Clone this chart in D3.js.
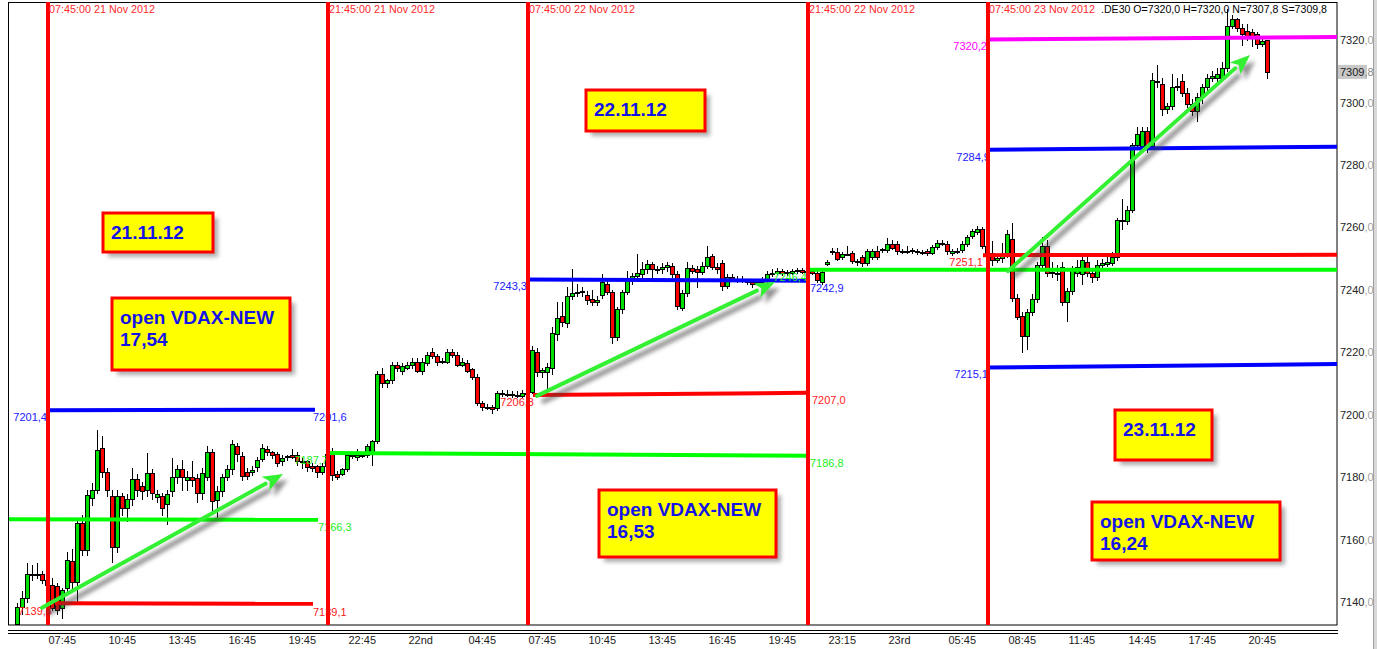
<!DOCTYPE html>
<html>
<head>
<meta charset="utf-8">
<script src="https://cdn.jsdelivr.net/npm/d3@7"></script>
<style>
  body { margin: 0; background: #fff; }
  svg { display: block; font-family: "Liberation Sans", Arial, sans-serif; }
</style>
</head>
<body>
<div id="chart"></div>
<script>
// 15 min candles [open, high, low, close], .DE30 21-23 Nov 2012
const day21 = [
  [7133,7139.5,7132,7138.4],[7138.4,7143.6,7136,7141.3],[7141.3,7152.5,7140,7148.9],[7148.9,7151.8,7147,7149],
  [7149,7152.5,7147.5,7148.9],[7148.9,7150,7146,7147],[7147,7148,7144,7145.4],[7145.4,7147.7,7137.5,7138],
  [7145,7146,7136,7137.4],[7138,7144.5,7134.9,7143.8],[7144.5,7156,7143,7153.4],[7153,7157,7144,7146.5],
  [7146.4,7167,7140,7165.3],[7165.3,7168,7155,7156.6],[7156.6,7176,7155,7174.3],[7173.3,7178,7171,7175.9],
  [7175.9,7195,7175,7188.7],[7189.3,7193,7180,7181.6],[7181.6,7183,7174,7175.9],[7174,7176,7152.8,7157.6],
  [7157.6,7176,7156,7174],[7174,7175,7168,7170],[7170,7174.5,7166,7173],[7173,7183,7171,7179.3],
  [7179.3,7181,7174,7176],[7177,7178.5,7173,7175.5],[7175.9,7187.7,7174,7181.3],[7181.3,7182.5,7173,7175],
  [7173.6,7176,7172,7174.7],[7174,7175,7168,7170],[7171.5,7176,7165,7174.7],[7175.6,7186,7174,7180],
  [7180,7184,7178,7182.6],[7182.6,7185.5,7176,7180],[7179,7182,7176,7180],[7180,7185,7177,7179],
  [7179.7,7181,7172,7174.9],[7174.9,7183,7173,7181.3],[7180,7190,7179,7188],[7188,7189,7169.5,7172.4],
  [7172.7,7177,7167,7175.5],[7175.5,7181,7174,7180],[7180,7184,7179,7182.6],[7182.6,7192,7181,7190.6],
  [7190,7191,7185,7187.4],[7186.7,7188,7179,7180.3],[7181.6,7183,7179.5,7180.3],[7181.6,7183.5,7180.5,7182.4],
  [7183.2,7186.5,7182,7185.5],[7185.8,7190.5,7185,7189.3],[7189,7190,7187,7188],[7188,7188.5,7186,7187],
  [7187.4,7188,7183.5,7184.5],[7185,7187,7184,7186],[7186.3,7187,7185.5,7186.6],[7187.2,7189,7186,7186.5],
  [7187,7188,7184,7185],[7184.7,7186,7183,7185.2],[7185,7185.5,7182,7183.2],[7183.5,7184.5,7182,7183],
  [7183.5,7184,7180,7181.7],[7181.7,7184.5,7181,7183.5],[7183.5,7189,7182,7187.5]
];
const night21 = [
  [7187.7,7189.3,7179,7180.7],[7181,7182,7179.5,7180],[7181,7183,7180.5,7182.5],[7182.6,7188,7182,7187],
  [7187,7188,7186,7187.2],[7186.3,7189,7185.5,7187],[7187,7188,7186.5,7187.2],[7187,7190.5,7186.5,7190],
  [7188,7192,7184,7191.5],[7191.5,7214,7191,7213],[7213,7215,7209,7210],[7210,7211.5,7209,7211],
  [7211,7217,7210,7216],[7216,7217,7214,7215],[7214,7216.5,7213,7215.5],[7215,7217,7214.5,7216],
  [7216,7218,7215,7217],[7217,7218,7213.5,7214],[7214,7218,7213,7217],[7216.5,7220,7216,7219],
  [7220,7221.5,7218,7218.7],[7218.7,7219.5,7216,7217],[7217,7218,7216.5,7217.2],[7217,7221,7216.5,7220],
  [7220,7221,7218.5,7219.2],[7219,7220,7215.5,7216],[7216,7218,7215.5,7217],[7216.5,7217.5,7213.5,7214],
  [7214.5,7215,7211.5,7212],[7212,7213,7203,7203.7],[7203.7,7204.5,7201.5,7202.4],[7202.4,7203.5,7201.8,7202.6],
  [7202.4,7203,7200.5,7201.9],[7202,7207.5,7201.5,7207],[7207,7208,7206,7206.5],[7206.5,7208,7206,7206.7],
  [7206.5,7207.5,7205.8,7206.6],[7206.2,7207.5,7205.5,7206],[7206,7208,7205.5,7207]
];
const day22 = [
  [7207,7208,7205.5,7206.8],[7207.3,7222,7207,7220.7],[7220,7221.5,7212.5,7213.6],[7213.6,7215,7212,7214.3],
  [7213.6,7216.5,7207,7215.3],[7215,7228,7213,7226],[7225.8,7236,7224,7231],[7231.5,7236,7228.5,7229.7],
  [7229.4,7241,7228,7238],[7238,7246.6,7237,7239],[7239,7242,7238,7239.3],[7239.3,7241,7238,7239.5],
  [7238.3,7239.5,7235.5,7236.7],[7237,7240,7235,7236],[7236,7238,7235,7236.6],[7238.3,7245,7237.5,7242.5],
  [7242,7243,7238.5,7239.3],[7239.3,7240,7223,7225],[7225,7234.5,7224,7233.8],[7233.8,7240,7232.5,7239.3],
  [7239.3,7246,7238.5,7243],[7243,7245.5,7242,7244.4],[7244.4,7251.5,7243.5,7245.5],[7245,7249,7244,7246.6],
  [7246.6,7249.5,7245.5,7248.2],[7248.2,7249,7244,7246.6],[7246.6,7247.5,7245.5,7246.8],[7246.6,7248.5,7245.5,7247.3],
  [7247.3,7249,7246,7248],[7247.6,7248.5,7244,7245],[7245,7246,7234,7234.8],[7234.2,7240,7233.5,7239],
  [7239,7249,7238,7247],[7247,7248,7245.5,7246],[7246.6,7247.5,7241,7245.8],[7245.8,7249,7245,7247.6],
  [7247.6,7254,7247,7250.5],[7250.8,7251.5,7246.5,7247.3],[7247.3,7248.5,7245.5,7246.6],[7248.6,7249.5,7240,7241.2],
  [7241.2,7245,7240.5,7244],[7244,7245,7243,7243.5],[7243.5,7244.5,7242.5,7243.6],[7243.5,7244.5,7242.5,7243],
  [7242.6,7243.5,7241.8,7242.8],[7242.6,7243.2,7241,7241.9],[7242,7243.5,7241.5,7242.6],[7242.6,7244,7242,7243],
  [7243,7246,7242.5,7245],[7245.3,7246.5,7244.5,7245.5],[7245.4,7247,7245,7246],[7246,7246.5,7244.8,7245.4],
  [7245.4,7246.3,7244.8,7245.6],[7245.4,7246.8,7245,7246],[7246,7247,7245.5,7246.2],[7246.3,7247,7245.3,7245.8],
  [7245.8,7246.8,7245,7246]
];
const night22 = [
  [7246,7246.5,7245,7245.5],[7245.5,7246,7242.5,7243],[7242.5,7246.5,7242,7245.7],[7248.3,7249.5,7247.8,7249],
  [7252.2,7253.5,7251.5,7252.4],[7252,7253.5,7249.5,7250],[7250.5,7252,7250,7251.5],[7251.5,7254,7251,7251.6],
  [7251.8,7252.5,7248.5,7249.2],[7249.2,7250,7248,7248.9],[7250.5,7251,7247.5,7248.6],[7248.6,7253,7248,7252.4],
  [7250.5,7253,7250,7252.4],[7252.4,7254,7250,7250.5],[7252.7,7253.5,7252,7253],[7252.7,7256.5,7252,7254.6],
  [7254.6,7256,7253,7253.5],[7254.6,7255.5,7251.5,7252.4],[7252.4,7253,7251.8,7252.5],[7252.4,7254,7251.8,7252.5],
  [7252.4,7253.5,7251.8,7252.6],[7252.4,7253,7251.5,7252.5],[7252,7252.8,7251.5,7252.1],[7252.4,7253,7251.2,7251.8],
  [7251.8,7254.5,7251.5,7253.7],[7253.7,7256,7253,7255],[7255,7256,7254.5,7255.1],[7254.7,7255.5,7251.5,7252.4],
  [7251.8,7253,7251,7252.4],[7252.4,7253.5,7251.8,7252.5],[7252.7,7255.5,7252,7254.6],[7254.6,7257.5,7254,7257],
  [7257.2,7259.5,7256.5,7258.8],[7258.5,7260.5,7258,7259.5],[7259.5,7260,7253.5,7254]
];
const day23 = [
  [7254,7256,7250.5,7251.5],[7251.8,7255.6,7248,7249.5],[7249.5,7251.5,7249,7250.3],[7250.3,7255,7249,7251],
  [7251.1,7259,7250.5,7257.9],[7256.3,7261.4,7236.5,7237.4],[7237.4,7238.5,7230.5,7231.3],[7231.6,7233,7220,7225.2],
  [7225.2,7234,7221,7232.9],[7233,7238.5,7232,7237],[7237,7249,7236,7248],[7248,7257,7247,7254],
  [7254,7256,7244.5,7245.5],[7245.4,7249,7244,7245.6],[7245.2,7248,7243,7245.4],[7247.3,7249,7235,7236],
  [7236,7240.5,7230,7239.6],[7239.6,7247.5,7238.5,7246.6],[7245.4,7249.5,7244.5,7247.3],[7245,7251,7242,7249.5],
  [7249,7250.5,7244.5,7245.4],[7245.4,7246.5,7242.5,7244],[7244,7249.5,7243,7248],[7248,7250,7247,7248.6],
  [7248.2,7250.5,7247.5,7249],[7248.6,7252,7248,7250.5],[7250.5,7263,7249.5,7262.3],[7262,7269,7259.5,7262.4],
  [7262,7267,7261,7265.6],[7265.6,7287,7265,7286.4],[7286.4,7292,7285.5,7290],[7286,7292,7285,7291],
  [7291,7292,7284,7286],[7286,7309.5,7285,7307.2],[7306.5,7312,7305,7306.8],[7306,7308,7296,7297.9],
  [7298,7300,7296.5,7299],[7299,7309,7298,7305],[7305,7308,7304,7305.2],[7307,7309,7302,7303],
  [7303,7304.5,7298.5,7299.5],[7299.5,7301,7296,7297.3],[7297.3,7303,7294,7301.7],[7301.7,7306,7300,7305],
  [7305,7309,7304,7308],[7308,7310,7307,7308.5],[7308,7311,7307,7309],[7308,7313,7307,7311],
  [7311,7330,7310,7324.5],[7324.5,7328,7324,7326.7],[7326.7,7327,7323,7324],[7324,7325,7318.5,7322],
  [7322.9,7325,7320,7321.3],[7322.5,7323.5,7318,7321],[7322,7322.5,7317.5,7318.7],[7318.7,7320.5,7318,7319.7],
  [7320,7320,7307.8,7309.8]
];
const candles = [...day21, ...night21, ...day22, ...night22, ...day23];

// time axis
const tickIndex = [6,18,30,42,54,66,78,90,102,114,126,138,150,162,174,186,198,210,222,234,246];
const tickLabels = ["07:45","10:45","13:45","16:45","19:45","22:45","22nd","04:45","07:45","10:45","13:45",
                    "16:45","19:45","23:15","23rd","05:45","08:45","11:45","14:45","17:45","20:45"];
const priceTicks = [7140,7160,7180,7200,7220,7240,7260,7280,7300,7320];

// session markers
const sessionIndex = [6,62,102,158,194];
const sessionLabels = ["07:45:00 21 Nov 2012","21:45:00 21 Nov 2012","07:45:00 22 Nov 2012",
                       "21:45:00 22 Nov 2012","07:45:00 23 Nov 2012"];
const quote = ".DE30 O=7320,0 H=7320,0 N=7307,8 S=7309,8";

// horizontal levels: [fromIndex, toIndex, startValue, endValue, kind]
const levels = [
  [6, 59.4, 7201.4, 7201.6, "blue"],
  [-2, 60, 7166.5, 7166.3, "green"],
  [7.4, 59, 7139.6, 7139.4, "red"],
  [62, 158, 7187.7, 7186.8, "green"],
  [103, 158, 7206.3, 7207.0, "red"],
  [102, 158, 7243.3, 7242.9, "blue"],
  [158, 264, 7246.4, 7246.4, "green"],
  [193, 264, 7251.1, 7251.2, "red"],
  [194, 264, 7215.1, 7216.2, "blue"],
  [194, 264, 7284.9, 7285.8, "blue"],
  [194, 264, 7320.2, 7321.0, "magenta"]
];
// level labels: [text, index, value, anchor, kind]
const levelLabels = [
  ["7201,4", 5.8, 7201.4, "end", "blue"], ["7201,6", 59, 7201.6, "start", "blue"],
  ["7166,3", 60, 7166.3, "start", "green"],
  ["7139,3", 6.8, 7139.3, "end", "red"], ["7139,1", 59, 7139.1, "start", "red"],
  ["7187,7", 62, 7187.7, "end", "green"], ["7186,8", 158.4, 7186.8, "start", "green"],
  ["7206,3", 103.2, 7206.3, "end", "red"], ["7207,0", 158.8, 7207.0, "start", "red"],
  ["7243,3", 101.8, 7243.3, "end", "blue"], ["7242,9", 158.4, 7242.9, "start", "blue"],
  ["7246,4", 157.8, 7246.4, "end", "green"],
  ["7251,1", 193, 7251.1, "end", "red"],
  ["7215,1", 194, 7215.1, "end", "blue"],
  ["7284,9", 194.4, 7284.9, "end", "blue"],
  ["7320,2", 193.8, 7320.2, "end", "magenta"]
];
// trend arrows: [fromIndex, fromValue, toIndex, toValue]
const arrows = [
  [4.8, 7138.1, 53, 7181.0],
  [103.8, 7206.0, 151.4, 7242.5],
  [198, 7246.0, 246.4, 7315.2]
];
// note boxes
const notes = [
  { x: 103, y: 213, w: 110, h: 39, lines: ["21.11.12"] },
  { x: 112, y: 298, w: 178, h: 72, lines: ["open VDAX-NEW", "17,54"] },
  { x: 586, y: 90, w: 119, h: 41, lines: ["22.11.12"] },
  { x: 599, y: 490, w: 177, h: 67, lines: ["open VDAX-NEW", "16,53"] },
  { x: 1115, y: 410, w: 97, h: 50, lines: ["23.11.12"] },
  { x: 1092, y: 502, w: 188, h: 58, lines: ["open VDAX-NEW", "16,24"] }
];

const colors = { blue: "#0000ff", green: "#00ff00", red: "#ff0000", magenta: "#ff00ff" };
const labelColors = { blue: "#2020ff", green: "#22ee22", red: "#ff2020", magenta: "#ff00ff" };
const upColor = "#00e000", downColor = "#ff0000";

const W = 1377, H = 649;
const plot = { left: 9, top: 2, right: 1337, bottom: 625 };

const x = d3.scaleLinear().domain([-1.8, 263.8]).range([plot.left, plot.right]);
const y = d3.scaleLinear().domain([7132.6, 7332.2]).range([plot.bottom, plot.top]);

const svg = d3.select("#chart").append("svg").attr("width", W).attr("height", H);
const defs = svg.append("defs");

defs.append("clipPath").attr("id", "plotClip").append("rect")
  .attr("x", plot.left).attr("y", plot.top)
  .attr("width", plot.right - plot.left).attr("height", plot.bottom - plot.top);

const blur = defs.append("filter").attr("id", "soft")
  .attr("filterUnits", "userSpaceOnUse").attr("x", 0).attr("y", 0).attr("width", W).attr("height", H);
blur.append("feGaussianBlur").attr("stdDeviation", 2.2);

// frame
svg.append("rect")
  .attr("x", plot.left - 0.5).attr("y", plot.top + 0.5)
  .attr("width", plot.right - plot.left + 0.5).attr("height", plot.bottom - plot.top - 0.5)
  .attr("fill", "#fff").attr("stroke", "#000").attr("stroke-width", 1);

// double line under the plot
[630.5, 633.5].forEach(yy => {
  svg.append("line").attr("x1", plot.left - 1).attr("x2", plot.right + 1)
    .attr("y1", yy).attr("y2", yy).attr("stroke", "#000");
});

// window border on the right
svg.append("rect").attr("x", 1373).attr("y", 0).attr("width", 4).attr("height", H).attr("fill", "#d8d8d8");
svg.append("line").attr("x1", 1373.5).attr("x2", 1373.5).attr("y1", 0).attr("y2", H).attr("stroke", "#a0a0a0");

const g = svg.append("g").attr("clip-path", "url(#plotClip)");

// candles
const px = i => x(i);
g.selectAll("line.wick").data(candles).join("line").attr("class", "wick")
  .attr("x1", (d, i) => px(i) - 0.5).attr("x2", (d, i) => px(i) - 0.5)
  .attr("y1", d => Math.round(y(d[1]))).attr("y2", d => Math.round(y(d[2])) + 1)
  .attr("stroke", "#000").attr("stroke-width", 1);

g.selectAll("rect.body").data(candles).join("rect").attr("class", "body")
  .attr("x", (d, i) => px(i) - 2.5).attr("width", 4)
  .attr("y", d => Math.round(y(Math.max(d[0], d[3]))) + 0.5)
  .attr("height", d => Math.max(1, Math.round(y(Math.min(d[0], d[3]))) - Math.round(y(Math.max(d[0], d[3])))))
  .attr("fill", d => d[3] >= d[0] ? upColor : downColor)
  .attr("stroke", "#000").attr("stroke-width", 1);

// level lines
g.selectAll("line.level").data(levels).join("line").attr("class", "level")
  .attr("x1", d => x(d[0])).attr("x2", d => x(d[1]))
  .attr("y1", d => y(d[2])).attr("y2", d => y(d[3]))
  .attr("stroke", d => colors[d[4]]).attr("stroke-width", 4);

// level labels
g.selectAll("text.lvl").data(levelLabels).join("text").attr("class", "lvl")
  .attr("x", d => x(d[1])).attr("y", d => y(d[2]) + 11)
  .attr("text-anchor", d => d[3])
  .attr("font-size", 11).attr("fill", d => labelColors[d[4]])
  .text(d => d[0]);

// session lines
svg.selectAll("line.session").data(sessionIndex).join("line").attr("class", "session")
  .attr("x1", d => x(d)).attr("x2", d => x(d))
  .attr("y1", plot.top).attr("y2", plot.bottom)
  .attr("stroke", "#ff0000").attr("stroke-width", 4);

svg.selectAll("text.session").data(sessionIndex).join("text").attr("class", "session")
  .attr("x", d => x(d) + 1).attr("y", 13)
  .attr("font-size", 11).attr("fill", "#ff2a2a")
  .attr("textLength", 106).attr("lengthAdjust", "spacingAndGlyphs")
  .text((d, k) => sessionLabels[k]);

svg.append("text").attr("x", 1101).attr("y", 13).attr("font-size", 11).attr("fill", "#000")
  .attr("textLength", 226).attr("lengthAdjust", "spacingAndGlyphs").text(quote);

// arrows (shadow + arrow)
function arrowPath(a) {
  const x0 = x(a[0]), y0 = y(a[1]), x1 = x(a[2]), y1 = y(a[3]);
  const ang = Math.atan2(y1 - y0, x1 - x0);
  const L = 20, hw = 8;
  const bx = x1 - L * Math.cos(ang), by = y1 - L * Math.sin(ang);
  const nx = -Math.sin(ang), ny = Math.cos(ang);
  return { line: [x0, y0, bx, by],
    head: [[x1, y1], [bx + nx * hw, by + ny * hw], [bx + L * 0.25 * Math.cos(ang), by + L * 0.25 * Math.sin(ang)], [bx - nx * hw, by - ny * hw]] };
}
const arrowG = svg.append("g");
arrows.forEach(a => {
  const p = arrowPath(a);
  const sh = arrowG.append("g").attr("transform", "translate(5,6)").attr("filter", "url(#soft)").attr("opacity", 0.6);
  sh.append("line").attr("x1", p.line[0]).attr("y1", p.line[1]).attr("x2", p.line[2]).attr("y2", p.line[3])
    .attr("stroke", "#444").attr("stroke-width", 5);
  sh.append("polygon").attr("points", p.head.map(q => q.join(",")).join(" ")).attr("fill", "#444");
  arrowG.append("line").attr("x1", p.line[0]).attr("y1", p.line[1]).attr("x2", p.line[2]).attr("y2", p.line[3])
    .attr("stroke", "#33f033").attr("stroke-width", 4).attr("stroke-linecap", "round");
  arrowG.append("polygon").attr("points", p.head.map(q => q.join(",")).join(" ")).attr("fill", "#33f033");
});

// note boxes
const noteG = svg.selectAll("g.note").data(notes).join("g").attr("class", "note");
noteG.append("rect")
  .attr("x", d => d.x + 5).attr("y", d => d.y + 5).attr("width", d => d.w).attr("height", d => d.h)
  .attr("fill", "#777").attr("opacity", 0.6).attr("filter", "url(#soft)");
noteG.append("rect")
  .attr("x", d => d.x).attr("y", d => d.y).attr("width", d => d.w).attr("height", d => d.h)
  .attr("fill", "#ffff00").attr("stroke", "#ff0000").attr("stroke-width", 3);
noteG.each(function(d) {
  const t = d3.select(this);
  d.lines.forEach((ln, k) => {
    t.append("text").attr("x", d.x + 8).attr("y", d.y + 26 + k * 22)
      .attr("font-size", 19).attr("font-weight", "bold").attr("fill", "#1414e6").text(ln);
  });
});

// right price axis
const yAxis = d3.axisRight(y).tickValues(priceTicks).tickSize(0).tickPadding(3);
const ya = svg.append("g").attr("transform", `translate(${plot.right},0)`).call(yAxis);
ya.select(".domain").remove();
ya.selectAll("text").attr("font-size", 11).attr("font-family", "Liberation Sans, Arial, sans-serif")
  .each(function(d) {
    const parts = d.toFixed(1).split(".");
    const t = d3.select(this).text(null);
    t.append("tspan").attr("fill", "#222").text(parts[0]);
    t.append("tspan").attr("fill", "#a0a0a0").text("," + parts[1]);
  });

// last price marker
const last = candles[candles.length - 1][3];
svg.append("rect").attr("x", plot.right + 1).attr("y", y(last) - 7).attr("width", 29).attr("height", 14).attr("fill", "#c8c8c8");
const lt = svg.append("text").attr("x", plot.right + 3).attr("y", y(last) + 4).attr("font-size", 11);
lt.append("tspan").attr("fill", "#222").text(last.toFixed(1).split(".")[0]);
lt.append("tspan").attr("fill", "#8a8a8a").text("," + last.toFixed(1).split(".")[1]);

// bottom time axis
const xAxis = d3.axisBottom(x).tickValues(tickIndex).tickSize(0).tickPadding(0)
  .tickFormat((d, k) => tickLabels[k]);
const xa = svg.append("g").attr("transform", "translate(0,636)").call(xAxis);
xa.select(".domain").remove();
xa.selectAll("text").attr("font-size", 11).attr("font-family", "Liberation Sans, Arial, sans-serif")
  .attr("fill", "#222").attr("text-anchor", "start").attr("dy", "0.71em");
</script>
</body>
</html>
